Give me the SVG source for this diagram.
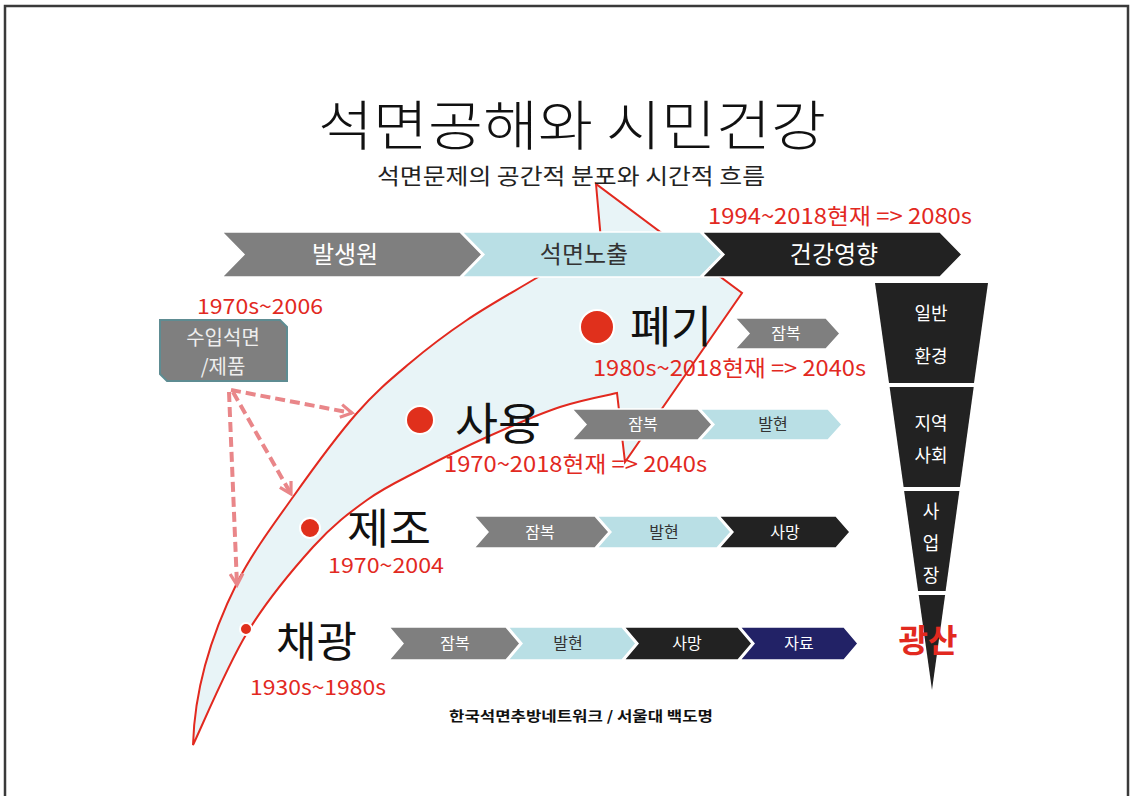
<svg xmlns="http://www.w3.org/2000/svg" width="1132" height="796" viewBox="0 0 1132 796">
<style>
.kr{font-family:"Noto Sans CJK KR","Noto Sans",sans-serif}
.red{fill:#e2291f}
.gray{fill:#7f7f7f;stroke:#fff;stroke-width:1.5}
.lb{fill:#b9dfe5;stroke:#fff;stroke-width:1.5}
.blk{fill:#222;stroke:#fff;stroke-width:1.5}
.navy{fill:#222266;stroke:#fff;stroke-width:1.5}
.wt{fill:#fff}
.dk{fill:#333}
.dot{fill:#e0301c;stroke:#fff;stroke-width:2}
.dash{fill:none;stroke:#e98689;stroke-width:4;stroke-dasharray:10 5;marker-end:url(#ah)}
</style>
<defs>
<marker id="ah" viewBox="0 0 10 10" refX="8" refY="5" markerWidth="4" markerHeight="4" orient="auto" markerUnits="strokeWidth">
<path d="M1,1 L8,5 L1,9" fill="none" stroke="#e98689" stroke-width="2"/>
</marker>
</defs>
<rect width="1132" height="796" fill="#fff"/>
<path d="M5,800 V6 H1128 V800" fill="none" stroke="#3a3a3a" stroke-width="2.5"/>

<g id="blade">
<path d="M193,745 C194.5,691 210,637 237,583 C251.5,554 273,525 293,497 C313,468.7 337.5,435.3 357,413 C376.5,390.7 391.7,378.5 410,363 C428.3,347.5 446.5,333.8 467,320 C487.5,306.2 510.7,293.3 533,280 C555.3,266.7 589.7,246.7 601,240 L596,184 L742,293 L625,462 L617,393 C607.5,395.3 581.7,399.7 560,407 C538.3,414.3 510.3,426.5 487,437 C463.7,447.5 440,459.5 420,470 C400,480.5 384.8,487.2 367,500 C349.2,512.8 333,524.8 313,547 C293,569.2 267,600 247,633 C227,666 202,726.3 193,745 Z" fill="#e8f4f7" stroke="#e2291f" stroke-width="2" stroke-linejoin="miter"/>
</g>

<g id="title" class="kr">
<text x="572" y="146" font-size="54" font-weight="300" text-anchor="middle" textLength="508" lengthAdjust="spacingAndGlyphs" fill="#111">석면공해와 시민건강</text>
<text x="571" y="184" font-size="22" text-anchor="middle" textLength="388" lengthAdjust="spacingAndGlyphs" fill="#222">석면문제의 공간적 분포와 시간적 흐름</text>
</g>

<g id="topbar" class="kr">
<polygon class="gray" points="222,232 460,232 482,254.5 460,277 222,277 244,254.5"/>
<polygon class="lb" points="462,232 700,232 722,254.5 700,277 462,277 484,254.5"/>
<polygon class="blk" points="702,232 940,232 962,254.5 940,277 702,277 724,254.5"/>
<text class="wt" x="345" y="263" font-size="24" text-anchor="middle">발생원</text>
<text class="dk" x="584" y="263" font-size="24" text-anchor="middle">석면노출</text>
<text class="wt" x="834" y="263" font-size="24" text-anchor="middle">건강영향</text>
<text class="red" x="708" y="224" font-size="22" textLength="264" lengthAdjust="spacingAndGlyphs">1994~2018현재 =&gt; 2080s</text>
</g>

<g id="funnel" class="kr">
<polygon fill="#222" points="875,283 988,283 974,383 889,383"/>
<polygon fill="#222" points="889.6,387 973.7,387 959.9,487 903.6,487"/>
<polygon fill="#222" points="904.1,491 959.4,491 945.6,591 918.1,591"/>
<polygon fill="#222" points="918.7,595 945.1,595 932,690"/>
<g class="wt" font-size="18" text-anchor="middle">
<text x="931" y="320">일반</text>
<text x="931" y="363">환경</text>
<text x="931" y="430">지역</text>
<text x="931" y="462">사회</text>
<text x="931" y="518">사</text>
<text x="931" y="550">업</text>
<text x="931" y="582">장</text>
</g>
<text class="red" x="928" y="652" font-size="32" font-weight="bold" text-anchor="middle">광산</text>
</g>

<g id="import" class="kr">
<polygon points="160,320 280,320 287,327 287,381 167,381 160,374" fill="#7f7f7f" stroke="#5e8c92" stroke-width="2"/>
<text x="223" y="345" font-size="20" text-anchor="middle" fill="#eee">수입석면</text>
<text x="223" y="374" font-size="20" text-anchor="middle" fill="#eee">/제품</text>
<text class="red" x="197" y="314" font-size="21" textLength="126" lengthAdjust="spacingAndGlyphs">1970s~2006</text>
</g>

<g id="connectors">
<path class="dash" d="M231,390 L352,413"/>
<path class="dash" d="M233,392 L291,494"/>
<path class="dash" d="M229,392 L237,585"/>
</g>

<g id="pyegi" class="kr">
<circle class="dot" cx="597" cy="327" r="17"/>
<text x="630" y="343" font-size="44" textLength="82" lengthAdjust="spacingAndGlyphs" fill="#111">폐기</text>
<polygon class="gray" points="735,318 826,318 840,333.5 826,349 735,349 749,333.5"/>
<text class="wt" x="786" y="339" font-size="16" text-anchor="middle">잠복</text>
<text class="red" x="593" y="376" font-size="22" textLength="273" lengthAdjust="spacingAndGlyphs">1980s~2018현재 =&gt; 2040s</text>
</g>

<g id="sayong" class="kr">
<circle class="dot" cx="420" cy="420" r="14"/>
<text x="455" y="440" font-size="44" textLength="86" lengthAdjust="spacingAndGlyphs" fill="#111">사용</text>
<polygon class="gray" points="572,409 698,409 712,424.5 698,440 572,440 586,424.5"/>
<polygon class="lb" points="700,409 828,409 842,424.5 828,440 700,440 714,424.5"/>
<text class="wt" x="643" y="430" font-size="16" text-anchor="middle">잠복</text>
<text class="dk" x="773" y="430" font-size="16" text-anchor="middle">발현</text>
<text class="red" x="444" y="472" font-size="22" textLength="263" lengthAdjust="spacingAndGlyphs">1970~2018현재 =&gt; 2040s</text>
</g>

<g id="jejo" class="kr">
<circle class="dot" cx="310" cy="528" r="10"/>
<text x="347" y="544" font-size="42" textLength="84" lengthAdjust="spacingAndGlyphs" fill="#111">제조</text>
<polygon class="gray" points="474,516 595,516 609,532 595,548 474,548 488,532"/>
<polygon class="lb" points="597,516 717,516 731,532 717,548 597,548 611,532"/>
<polygon class="blk" points="719,516 836,516 850,532 836,548 719,548 733,532"/>
<text class="wt" x="540" y="538" font-size="16" text-anchor="middle">잠복</text>
<text class="dk" x="664" y="538" font-size="16" text-anchor="middle">발현</text>
<text class="wt" x="785" y="538" font-size="16" text-anchor="middle">사망</text>
<text class="red" x="328" y="573" font-size="21" textLength="116" lengthAdjust="spacingAndGlyphs">1970~2004</text>
</g>

<g id="chaegwang" class="kr">
<circle class="dot" cx="246" cy="629" r="6"/>
<text x="276" y="657" font-size="42" textLength="81" lengthAdjust="spacingAndGlyphs" fill="#111">채광</text>
<polygon class="gray" points="389,627 506,627 520,643.5 506,660 389,660 403,643.5"/>
<polygon class="lb" points="508,627 622,627 636,643.5 622,660 508,660 522,643.5"/>
<polygon class="blk" points="624,627 738,627 752,643.5 738,660 624,660 638,643.5"/>
<polygon class="navy" points="740,627 844,627 858,643.5 844,660 740,660 754,643.5"/>
<text class="wt" x="455" y="649" font-size="16" text-anchor="middle">잠복</text>
<text class="dk" x="568" y="649" font-size="16" text-anchor="middle">발현</text>
<text class="wt" x="687" y="649" font-size="16" text-anchor="middle">사망</text>
<text class="wt" x="799" y="649" font-size="16" text-anchor="middle">자료</text>
<text class="red" x="250" y="695" font-size="21" textLength="136" lengthAdjust="spacingAndGlyphs">1930s~1980s</text>
</g>

<g id="footer" class="kr">
<text x="581" y="721" font-size="14" font-weight="bold" text-anchor="middle" textLength="264" lengthAdjust="spacingAndGlyphs" fill="#111">한국석면추방네트워크 / 서울대 백도명</text>
</g>
</svg>
